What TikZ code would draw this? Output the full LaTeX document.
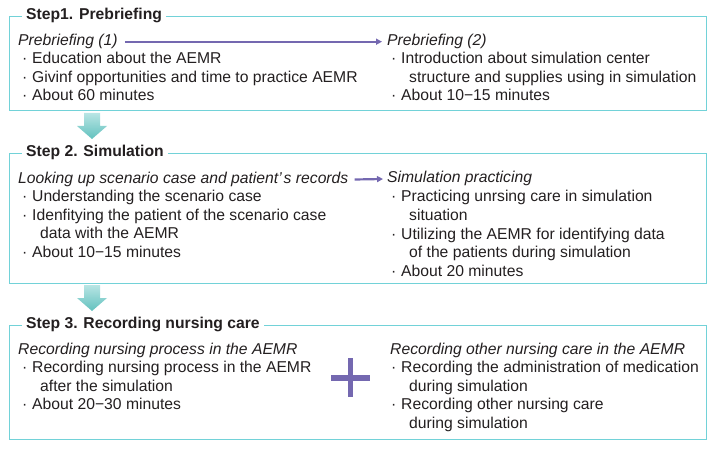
\documentclass[tikz,border=0pt]{standalone}
\usepackage{fontspec}
\setmainfont{Liberation Sans}
\usetikzlibrary{arrows.meta}
\definecolor{boxc}{HTML}{72D2D8}
\definecolor{purp}{HTML}{7468B0}
\definecolor{txtc}{HTML}{231F20}
\definecolor{arrtop}{HTML}{B8E5E4}
\definecolor{arrbot}{HTML}{62C1BE}
\newcommand\bul{\makebox[10pt][l]{·}}
\begin{document}
\begin{tikzpicture}[x=1pt,y=-1pt,
  font=\fontsize{15.7}{18.5}\selectfont, text=txtc,
  frame/.style={draw=boxc, line width=1.4pt, anchor=north west, inner sep=0pt},
  title/.style={fill=white, font=\fontsize{15.7}{18.5}\selectfont\bfseries, anchor=west, inner xsep=4pt, inner ysep=1pt, text height=0.86em, text depth=0.14em},
  txt/.style={anchor=west, inner sep=0pt, text height=0.86em, text depth=0.14em},
  hd/.style={txt, font=\fontsize{15.7}{18.5}\selectfont\itshape},
  flow/.style={draw=purp, line width=2.2pt, -{Triangle[length=6pt,width=6pt]}},
  downarr/.style={top color=arrtop, bottom color=arrbot, draw=none},
  plusbar/.style={fill=purp, draw=none}]
\useasboundingbox (0,0) rectangle (715,449);

% frames
\node[frame, minimum width=697pt, minimum height=94pt] (b1) at (9,16) {};
\node[frame, minimum width=697pt, minimum height=130pt] (b2) at (9,153) {};
\node[frame, minimum width=697pt, minimum height=114pt] (b3) at (9,325) {};

\node[title] (t1) at (22,16) {Step1. Prebriefing};
\node[title] (t2) at (22,153) {Step 2. Simulation};
\node[title] (t3) at (22,325) {Step 3. Recording nursing care};

% Step 1 left
\node[hd] (p1) at (18,41.7) {Prebriefing (1)};
\node[txt] (p1a) at (22,59.7) {\bul Education about the AEMR};
\node[txt] (p1b) at (22,78.5) {\bul Givinf opportunities and time to practice AEMR};
\node[txt] (p1c) at (22,97.2) {\bul About 60 minutes};
% Step 1 right
\node[hd] (p2) at (387,41.7) {Prebriefing (2)};
\node[txt] (p2a) at (391,59.7) {\bul Introduction about simulation center};
\node[txt] (p2b) at (409,78.5) {structure and supplies using in simulation};
\node[txt] (p2c) at (391,97.2) {\bul About 10−15 minutes};
\draw[flow] ([xshift=7pt]p1.east) -- ([xshift=-5pt]p2.west);

% Step 2 left
\node[hd] (s1) at (18,179.5) {Looking up scenario case and patient’\kern2pt s records};
\node[txt] (s1a) at (22,198) {\bul Understanding the scenario case};
\node[txt] (s1b) at (22,216.7) {\bul Idenfitying the patient of the scenario case};
\node[txt] (s1c) at (40,235.3) {data with the AEMR};
\node[txt] (s1d) at (22,253.5) {\bul About 10−15 minutes};
% Step 2 right
\node[hd] (s2) at (387,179) {Simulation practicing};
\node[txt] (s2a) at (391,198) {\bul Practicing unrsing care in simulation};
\node[txt] (s2b) at (409,216.5) {situation};
\node[txt] (s2c) at (391,235.5) {\bul Utilizing the AEMR for identifying data};
\node[txt] (s2d) at (409,254) {of the patients during simulation};
\node[txt] (s2e) at (391,272.5) {\bul About 20 minutes};
\draw[flow] ([xshift=6pt]s1.east) -- ([xshift=-4pt]s2.west);

% Step 3 left
\node[hd] (r1) at (18,351) {Recording nursing process in the AEMR};
\node[txt] (r1a) at (22,369.3) {\bul Recording nursing process in the AEMR};
\node[txt] (r1b) at (40,387.8) {after the simulation};
\node[txt] (r1c) at (22,406) {\bul About 20−30 minutes};
% Step 3 right
\node[hd] (r2) at (390,351) {Recording other nursing care in the AEMR};
\node[txt] (r2a) at (391,369.3) {\bul Recording the administration of medication};
\node[txt] (r2b) at (409,387.8) {during simulation};
\node[txt] (r2c) at (391,406) {\bul Recording other nursing care};
\node[txt] (r2d) at (409,424.5) {during simulation};

% plus sign
\fill[plusbar] (347.7,358) rectangle (353.3,396.7);
\fill[plusbar] (331,375) rectangle (370,380.5);

% down arrows
\shade[downarr] (84,113) -- (100,113) -- (100,126) -- (107,126) -- (92,139) -- (77,126) -- (84,126) -- cycle;
\shade[downarr] (84,285) -- (100,285) -- (100,298) -- (107,298) -- (92,311) -- (77,298) -- (84,298) -- cycle;
\end{tikzpicture}
\end{document}
